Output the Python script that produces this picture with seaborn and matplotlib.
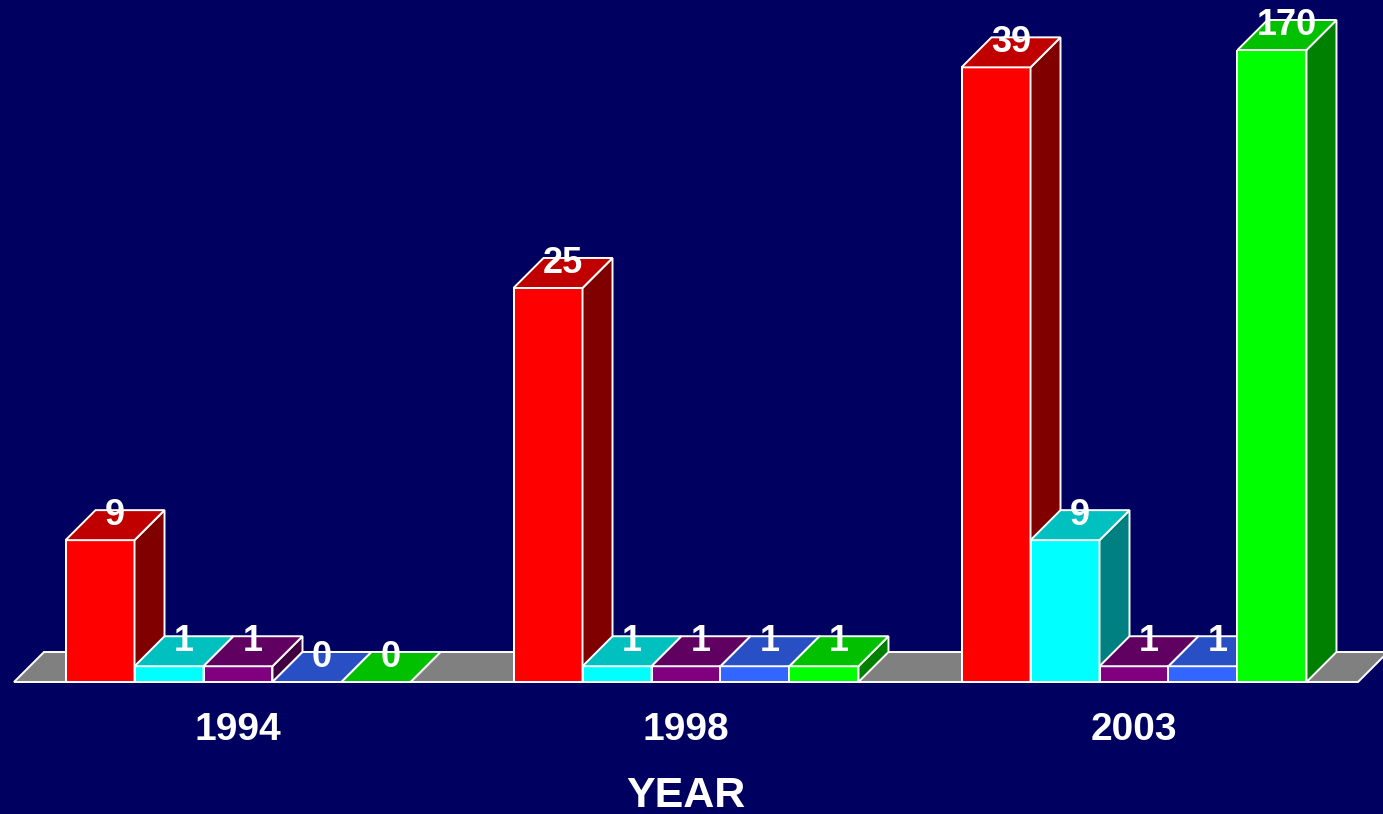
import pandas as pd
import matplotlib.pyplot as plt
from matplotlib.patches import Polygon
import seaborn as sns

# chart data
years = ["1994", "1998", "2003"]
series = ["S1", "S2", "S3", "S4", "S5"]
s1 = [9, 25, 39]
s2 = [1, 1, 9]
s3 = [1, 1, 1]
s4 = [0, 1, 1]
s5 = [0, 1, 170]

front_colors = ["#ff0000", "#00ffff", "#800080", "#3366ff", "#00ff00"]
top_colors = ["#c00000", "#00c0c0", "#600060", "#2850c4", "#00c000"]
side_colors = ["#800000", "#008080", "#400040", "#1a3380", "#008000"]
bg = "#000060"

rows = []
for name, vals in zip(series, [s1, s2, s3, s4, s5]):
    for y, v in zip(years, vals):
        rows.append({"year": y, "series": name, "count": v})
df = pd.DataFrame(rows)

sns.set_style("white")
plt.rcParams["font.family"] = ["Liberation Sans", "DejaVu Sans"]

fig = plt.figure(figsize=(13.83, 8.14), dpi=100, facecolor=bg)
ax = fig.add_axes([14 / 1383, 132 / 814, 1344 / 1383, 632 / 814])
ax.set_facecolor(bg)

sns.barplot(data=df, x="year", y="count", hue="series", palette=front_colors,
            width=0.77, saturation=1, edgecolor="white", linewidth=1.4,
            legend=False, ax=ax)

ymax = 40.1
ax.set_xlim(-0.5, 2.5)
ax.set_ylim(0, ymax)

# depth of the fake 3D faces, in pixels -> data units
x0, y0 = ax.transData.transform((0, 0))
dx, dy = ax.transData.inverted().transform((x0 + 30, y0 + 30))

# floor
floor = Polygon([(-0.5, 0), (2.5, 0), (2.5 + dx, dy), (-0.5 + dx, dy)],
                closed=True, facecolor="#808080", edgecolor="white",
                linewidth=1.4, clip_on=False, zorder=0.5)
ax.add_patch(floor)

# map each patch to its series colour index
bars = [p for p in ax.patches if p is not floor]
color_idx = {}
for i, name in enumerate(series):
    for j in range(len(years)):
        color_idx[id(bars[i * len(years) + j])] = i

bars = sorted(bars, key=lambda p: p.get_x())
for k, p in enumerate(bars):
    ci = color_idx[id(p)]
    z = 2 + k
    left = p.get_x()
    right = left + p.get_width()
    val = p.get_height()
    h = min(val, ymax)
    p.set_zorder(z)
    side = Polygon([(right, 0), (right + dx, dy), (right + dx, h + dy), (right, h)],
                   closed=True, facecolor=side_colors[ci], edgecolor="white",
                   linewidth=1.4, clip_on=False, zorder=z + 0.1)
    top = Polygon([(left, h), (right, h), (right + dx, h + dy), (left + dx, h + dy)],
                  closed=True, facecolor=top_colors[ci], edgecolor="white",
                  linewidth=1.4, clip_on=False, zorder=z + 0.2)
    ax.add_patch(side)
    ax.add_patch(top)
    ax.text((left + right) / 2 + dx / 2, h + dy / 2, f"{val:g}", ha="center",
            va="baseline", color="white", fontsize=26, fontweight="bold",
            clip_on=False, zorder=100)

sns.despine(ax=ax, left=True, bottom=True)
ax.set_yticks([])
ax.tick_params(axis="x", length=0, pad=21.5, colors="white")
for lbl in ax.get_xticklabels():
    lbl.set_fontsize(28)
    lbl.set_fontweight("bold")
ax.set_ylabel("")
ax.set_xlabel("YEAR", color="white", fontsize=31, fontweight="bold", labelpad=20)

fig.savefig("out.png", dpi=100, facecolor=bg)
